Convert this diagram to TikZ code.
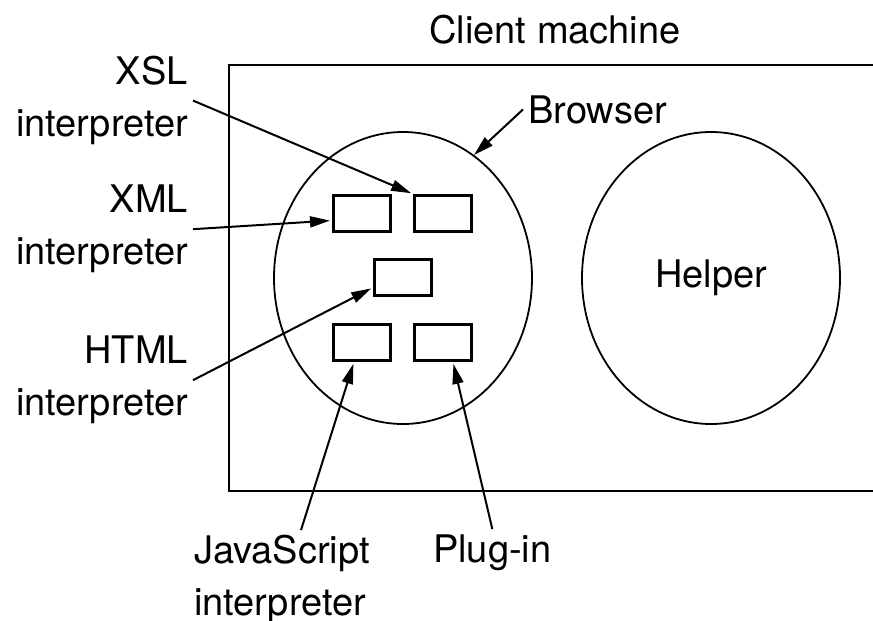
\documentclass[tikz,border=0pt]{standalone}
\usepackage{fontspec}
\setmainfont{TeX Gyre Heros}
\usetikzlibrary{arrows.meta,positioning,shapes.geometric,calc}
\newcommand\diagfont{\fontsize{38}{52}\selectfont}
\tikzset{
  part/.style={rectangle,draw,line width=3pt,minimum width=57pt,minimum height=36pt,inner sep=0pt},
  blob/.style={ellipse,draw,line width=1.8pt,minimum width=258pt,minimum height=292pt,inner sep=0pt,font=\diagfont},
  tagtext/.style={font=\diagfont,inner sep=5pt},
  arrow/.style={-{Triangle[length=20pt,width=11pt]},line width=2pt,shorten >=2pt}
}

\begin{document}
\begin{tikzpicture}[x=1pt,y=-1pt,node distance=90pt and 21pt]
    \useasboundingbox (0,0) rectangle (873,621);
    % client machine frame, its right side runs off the page
    \draw[line width=2.6pt] (873,65) -| (229,491) -- (873,491);
    \node[tagtext,anchor=base] (client) at (555,43) {Client machine};

    \node[blob] (browser) at (403,278) {};
    \node[blob] (helper) at (711,278) {Helper};
    \node[tagtext,anchor=base west] (browsertext) at (523,123) {Browser};

    \node[part] (xml) at (362,213.5) {};
    \node[part,right=of xml] (xsl) {};
    \node[part] (html) at (403,277.5) {};
    \node[part,below=of xml] (js) {};
    \node[part,right=of js] (plugin) {};

    \node[tagtext,align=right,anchor=north east] (xsltext) at (193,51) {XSL\\interpreter};
    \node[tagtext,align=right,anchor=north east] (xmltext) at (193,180) {XML\\interpreter};
    \node[tagtext,align=right,anchor=north east] (htmltext) at (193,331) {HTML\\interpreter};
    \node[tagtext,align=left,anchor=north west] (jstext) at (189,530) {JavaScript\\interpreter};
    \node[tagtext,anchor=base west] (plugtext) at (428,562) {Plug-in};

    \draw[arrow] (xsltext.east) -- (xsl.north west);
    \draw[arrow] (xmltext.east) -- ([yshift=-7pt]xml.west);
    \draw[arrow] (htmltext.east) -- ([yshift=-10pt]html.west);
    \draw[arrow] ([xshift=19pt]jstext.north) -- ([xshift=-8pt]js.south);
    \draw[arrow] (plugtext.north) -- ([xshift=10pt]plugin.south);
    \draw[arrow,shorten >=0pt] (browsertext.west) -- (browser.60);
  \end{tikzpicture}
\end{document}
